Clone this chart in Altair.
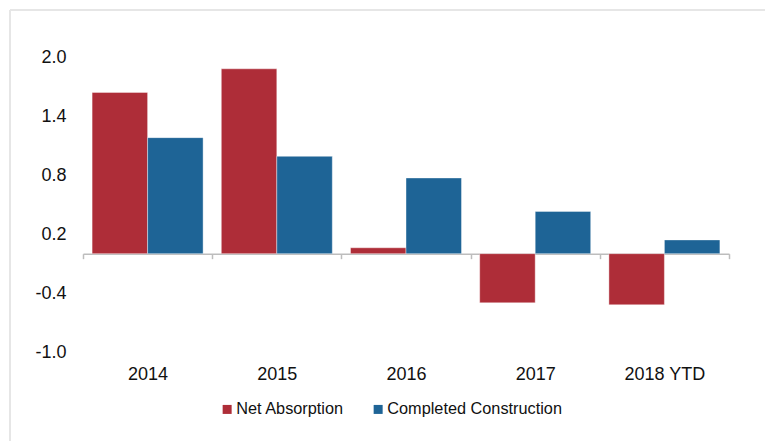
import altair as alt
import pandas as pd

years = ["2014", "2015", "2016", "2017", "2018 YTD"]
series_names = ["Net Absorption", "Completed Construction"]
net_absorption = [1.64, 1.88, 0.06, -0.50, -0.52]
completed_construction = [1.18, 0.99, 0.77, 0.43, 0.14]
y_ticks = [-1.0, -0.4, 0.2, 0.8, 1.4, 2.0]
colors = ["#AE2D38", "#1E6496"]

rows = []
for i, y in enumerate(years):
    rows.append({"year": y, "series": series_names[0], "value": net_absorption[i]})
    rows.append({"year": y, "series": series_names[1], "value": completed_construction[i]})
df = pd.DataFrame(rows)

W, H = 646, 295
FONT = "Liberation Sans"

bars = alt.Chart(df).mark_bar(stroke="white", strokeWidth=0.8, strokeOpacity=0.5).encode(
    x=alt.X("year:N", sort=years,
            scale=alt.Scale(paddingInner=0, paddingOuter=0),
            axis=alt.Axis(title=None, labelAngle=0, offset=-98.33, tickBand="extent",
                          domainColor="#bdbdbd", domainWidth=1.5, tickColor="#bdbdbd",
                          tickWidth=1.5, tickSize=5, labelPadding=107,
                          labelFont=FONT, labelFontSize=18, labelColor="#111111")),
    xOffset=alt.XOffset("series:N", sort=series_names,
                        scale=alt.Scale(paddingInner=0, paddingOuter=0.164)),
    y=alt.Y("value:Q", scale=alt.Scale(domain=[-1.0, 2.0], nice=False, zero=False),
            axis=alt.Axis(title=None, values=y_ticks, grid=False,
                          labelExpr="datum.value < 0 ? '-' + format(-datum.value, '.1f') : format(datum.value, '.1f')",
                          domain=False, ticks=False, labelPadding=17,
                          labelFont=FONT, labelFontSize=18, labelColor="#111111")),
    color=alt.Color("series:N", sort=series_names,
                    scale=alt.Scale(domain=series_names, range=colors),
                    legend=alt.Legend(title=None, orient="none", legendX=136, legendY=344,
                                      direction="horizontal", symbolType="square",
                                      symbolSize=81, symbolStrokeWidth=0,
                                      labelFont=FONT, labelFontSize=16.3, labelLimit=400,
                                      labelColor="#111111", labelOffset=1,
                                      columnPadding=26)),
)

frame_top = alt.Chart(pd.DataFrame({"k": [0]})).mark_rule(color="#e6e6e6", strokeWidth=2).encode(
    x=alt.value(-73), x2=alt.value(690), y=alt.value(-47)
)
frame_left = alt.Chart(pd.DataFrame({"k": [0]})).mark_rule(color="#e6e6e6", strokeWidth=2).encode(
    x=alt.value(-73), y=alt.value(-47), y2=alt.value(390)
)

chart = alt.layer(frame_top, frame_left, bars).properties(
    width=W, height=H,
    background="white",
    autosize=alt.AutoSizeParams(type="none"),
    padding={"left": 83, "top": 57, "right": 36, "bottom": 89},
).configure_view(strokeWidth=0, stroke="transparent")

chart.save("out.html", embed_options={"renderer": "svg", "actions": False})
